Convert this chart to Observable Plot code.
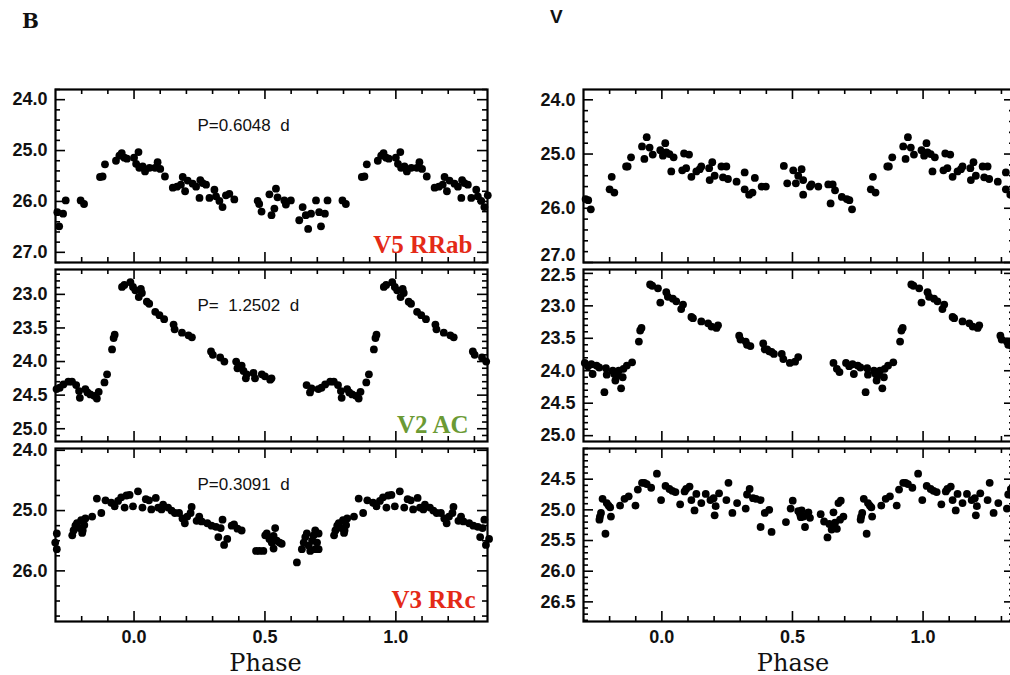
<!DOCTYPE html>
<html><head><meta charset="utf-8">
<script src="https://cdn.jsdelivr.net/npm/d3@7"></script>
<script src="https://cdn.jsdelivr.net/npm/@observablehq/plot@0.6"></script>
<style>
html,body{margin:0;padding:0;background:#fff;overflow:hidden;}
#root{position:relative;width:1010px;height:675px;overflow:hidden;background:#fff;}
.panel{position:absolute;}
.panel svg{overflow:visible;max-width:none;background:transparent;}
.ttl{position:absolute;font-weight:bold;color:#111;line-height:1;}
</style></head><body><div id="root"></div>
<script>
// ---- Data: one pulsation cycle per star and band, [phase, magnitude] ----
const bV5 = [[0.000,25.14],[0.008,25.26],[0.017,25.03],[0.020,25.34],[0.033,25.31],[0.042,25.41],[0.059,25.34],[0.080,25.34],[0.090,25.23],[0.100,25.36],[0.118,25.51],[0.148,25.73],[0.164,25.71],[0.179,25.67],[0.186,25.52],[0.195,25.80],[0.205,25.59],[0.224,25.65],[0.237,25.71],[0.250,25.93],[0.253,25.58],[0.262,25.64],[0.275,25.67],[0.288,25.93],[0.307,25.77],[0.313,25.90],[0.326,25.99],[0.338,26.11],[0.351,25.88],[0.364,25.85],[0.383,25.96],[0.472,25.99],[0.478,26.05],[0.487,26.20],[0.517,25.86],[0.525,26.27],[0.536,26.14],[0.542,25.75],[0.548,25.92],[0.574,25.98],[0.580,26.06],[0.599,25.98],[0.631,26.37],[0.644,26.11],[0.656,26.27],[0.665,26.54],[0.676,26.24],[0.695,25.98],[0.707,26.21],[0.714,26.49],[0.729,26.24],[0.739,25.98],[0.796,25.98],[0.809,26.05],[0.870,25.52],[0.880,25.51],[0.889,25.27],[0.931,25.20],[0.944,25.10],[0.953,25.05],[0.963,25.14],[0.973,25.16]];
const bV2 = [[0.005,22.94],[0.018,23.04],[0.026,22.92],[0.030,22.98],[0.049,23.11],[0.058,23.14],[0.081,23.26],[0.097,23.31],[0.115,23.37],[0.151,23.45],[0.155,23.52],[0.183,23.57],[0.208,23.61],[0.221,23.64],[0.294,23.85],[0.301,23.90],[0.329,23.94],[0.345,24.00],[0.390,24.00],[0.395,24.10],[0.411,24.06],[0.418,24.14],[0.427,24.25],[0.430,24.19],[0.456,24.17],[0.462,24.25],[0.488,24.19],[0.500,24.22],[0.520,24.27],[0.525,24.25],[0.659,24.35],[0.672,24.46],[0.678,24.40],[0.704,24.41],[0.716,24.39],[0.730,24.34],[0.749,24.30],[0.763,24.30],[0.779,24.35],[0.790,24.44],[0.793,24.54],[0.814,24.41],[0.822,24.46],[0.833,24.49],[0.848,24.51],[0.858,24.55],[0.865,24.45],[0.887,24.31],[0.897,24.19],[0.916,23.82],[0.922,23.65],[0.926,23.60],[0.954,22.89],[0.963,22.86],[0.986,22.82],[0.996,22.89]];
const bV3 = [[0.015,24.68],[0.032,24.95],[0.045,24.81],[0.057,24.83],[0.066,24.98],[0.083,24.79],[0.092,24.95],[0.105,24.98],[0.111,24.90],[0.130,24.95],[0.143,25.00],[0.156,25.04],[0.172,25.04],[0.185,25.13],[0.194,25.21],[0.203,25.10],[0.216,25.04],[0.220,24.94],[0.239,25.17],[0.249,25.10],[0.258,25.18],[0.280,25.21],[0.296,25.25],[0.313,25.27],[0.322,25.44],[0.331,25.29],[0.338,25.15],[0.344,25.57],[0.356,25.47],[0.373,25.25],[0.382,25.23],[0.395,25.30],[0.411,25.33],[0.466,25.67],[0.479,25.67],[0.494,25.67],[0.501,25.41],[0.507,25.38],[0.517,25.47],[0.526,25.53],[0.533,25.42],[0.533,25.63],[0.539,25.29],[0.545,25.50],[0.556,25.53],[0.564,25.55],[0.622,25.86],[0.641,25.64],[0.648,25.53],[0.654,25.44],[0.660,25.38],[0.667,25.58],[0.673,25.67],[0.680,25.50],[0.686,25.41],[0.692,25.33],[0.692,25.64],[0.699,25.53],[0.705,25.64],[0.705,25.38],[0.764,25.41],[0.769,25.33],[0.776,25.25],[0.782,25.21],[0.792,25.29],[0.798,25.16],[0.802,25.37],[0.804,25.33],[0.810,25.24],[0.814,25.13],[0.840,25.10],[0.858,24.80],[0.875,25.04],[0.891,24.83],[0.913,24.87],[0.926,24.93],[0.939,24.84],[0.951,24.78],[0.964,24.95],[0.971,24.75],[0.983,24.74],[0.996,24.93]];
const vV5 = [[0.004,25.03],[0.013,24.80],[0.017,24.97],[0.029,25.00],[0.036,25.32],[0.045,25.06],[0.078,25.30],[0.085,24.99],[0.093,25.26],[0.104,25.01],[0.113,25.42],[0.132,25.32],[0.145,25.28],[0.151,25.23],[0.181,25.26],[0.183,25.48],[0.193,25.15],[0.202,25.40],[0.228,25.23],[0.234,25.43],[0.247,25.23],[0.253,25.46],[0.286,25.51],[0.317,25.34],[0.317,25.65],[0.334,25.75],[0.347,25.71],[0.356,25.44],[0.382,25.60],[0.398,25.60],[0.467,25.22],[0.480,25.54],[0.503,25.30],[0.513,25.54],[0.522,25.40],[0.535,25.28],[0.541,25.48],[0.541,25.75],[0.567,25.60],[0.573,25.56],[0.599,25.60],[0.637,25.56],[0.646,25.91],[0.654,25.56],[0.663,25.67],[0.689,25.79],[0.708,25.83],[0.718,25.85],[0.728,26.02],[0.800,25.65],[0.808,25.42],[0.818,25.71],[0.863,25.23],[0.869,25.23],[0.882,25.06],[0.924,24.86],[0.933,25.09],[0.942,24.69],[0.953,24.88],[0.965,25.01],[0.994,24.93]];
const vV2 = [[0.017,22.79],[0.023,22.86],[0.042,22.89],[0.055,22.93],[0.074,23.05],[0.081,22.98],[0.113,23.17],[0.119,23.19],[0.151,23.24],[0.177,23.27],[0.190,23.32],[0.209,23.34],[0.215,23.30],[0.296,23.46],[0.301,23.52],[0.321,23.55],[0.326,23.60],[0.339,23.62],[0.388,23.58],[0.394,23.67],[0.403,23.67],[0.411,23.70],[0.420,23.71],[0.429,23.74],[0.459,23.74],[0.465,23.82],[0.490,23.88],[0.510,23.86],[0.522,23.79],[0.657,23.88],[0.670,23.97],[0.680,24.02],[0.705,23.88],[0.717,23.93],[0.730,23.90],[0.735,24.05],[0.750,23.92],[0.760,23.95],[0.780,24.33],[0.786,23.96],[0.789,24.06],[0.812,24.00],[0.818,24.05],[0.822,24.15],[0.827,24.07],[0.835,24.00],[0.844,24.27],[0.850,24.10],[0.853,23.97],[0.866,23.92],[0.886,23.87],[0.912,23.55],[0.917,23.38],[0.922,23.34],[0.955,22.67],[0.963,22.69],[0.985,22.73],[0.994,22.95]];
const vV3 = [[0.014,24.61],[0.029,24.66],[0.040,24.69],[0.052,24.71],[0.070,24.91],[0.087,24.70],[0.093,24.66],[0.106,24.62],[0.113,24.84],[0.125,25.01],[0.132,24.74],[0.151,24.89],[0.168,24.74],[0.186,24.84],[0.198,24.81],[0.202,25.09],[0.206,24.94],[0.219,24.73],[0.247,24.84],[0.255,24.56],[0.270,25.05],[0.288,24.89],[0.321,24.98],[0.326,24.75],[0.336,24.66],[0.349,24.81],[0.360,24.82],[0.378,24.84],[0.378,25.28],[0.394,25.05],[0.411,25.00],[0.420,25.36],[0.475,25.20],[0.493,24.98],[0.501,24.85],[0.522,25.02],[0.529,25.07],[0.532,25.12],[0.535,25.01],[0.542,25.11],[0.548,25.28],[0.561,25.04],[0.567,25.13],[0.608,25.07],[0.621,25.19],[0.634,25.45],[0.641,25.23],[0.650,25.32],[0.657,25.04],[0.663,25.21],[0.670,25.31],[0.676,24.89],[0.682,25.16],[0.685,24.85],[0.695,25.11],[0.761,25.16],[0.763,25.11],[0.767,25.05],[0.773,24.82],[0.784,25.39],[0.789,24.89],[0.796,24.93],[0.802,24.96],[0.805,25.11],[0.840,24.93],[0.857,24.82],[0.873,24.78],[0.899,24.93],[0.908,24.67],[0.924,24.56],[0.933,24.56],[0.942,24.58],[0.959,24.64],[0.981,24.41],[0.997,24.84]];

const bandTitles = ["B", "V"];
const periodLabels = ["P=0.6048  d", "P=  1.2502  d", "P=0.3091  d"];
const starLabels = ["V5 RRab", "V2 AC", "V3 RRc"];
const starColors = ["#e42a17", "#6b9a34", "#e42a17"];
const phaseDomain = [-0.3, 1.35];
const phaseMajor = [0.0, 0.5, 1.0];
const phaseMinor = [-0.2, -0.1, 0.1, 0.2, 0.3, 0.4, 0.6, 0.7, 0.8, 0.9, 1.1, 1.2, 1.3];
const xLabel = "Phase";

// y tick labels per panel
const yMajB = [[24, 25, 26, 27], [23.0, 23.5, 24.0, 24.5, 25.0], [24, 25, 26]];
const yMajV = [[24, 25, 26, 27], [22.5, 23.0, 23.5, 24.0, 24.5, 25.0], [24.5, 25.0, 25.5, 26.0, 26.5]];

// ---- Layout ----
const rows = [
  {top: 80, mt: 9, ih: 173, mb: 3},
  {top: 262, mt: 7, ih: 172, mb: 3},
  {top: 441, mt: 7, ih: 173, mb: 54}
];
const cols = [
  {left: 0, width: 500, ml: 55, mr: 13},
  {left: 500, width: 520, ml: 83, mr: 6}
];

const panels = [
  {col: 0, row: 0, data: bV5, yDomain: [23.8, 27.2], yMajor: yMajB[0], yStep: 0.2, period: periodLabels[0], label: starLabels[0], color: starColors[0], ldx: -15, ldy: -10},
  {col: 0, row: 1, data: bV2, yDomain: [22.63, 25.19], yMajor: yMajB[1], yStep: 0.1, period: periodLabels[1], label: starLabels[1], color: starColors[1], ldx: -19, ldy: -9},
  {col: 0, row: 2, data: bV3, yDomain: [23.97, 26.84], yMajor: yMajB[2], yStep: 0.25, period: periodLabels[2], label: starLabels[2], color: starColors[2], ldx: -12, ldy: -14},
  {col: 1, row: 0, data: vV5, yDomain: [23.81, 27.0], yMajor: yMajV[0], yStep: 0.2, lastDy: -7},
  {col: 1, row: 1, data: vV2, yDomain: [22.44, 25.09], yMajor: yMajV[1], yStep: 0.1, firstDy: 1.5},
  {col: 1, row: 2, data: vV3, yDomain: [24.0, 26.82], yMajor: yMajV[2], yStep: 0.1}
];

function minorTicks(domain, step, majors) {
  const out = [];
  const lo = Math.ceil(domain[0] / step - 1e-9), hi = Math.floor(domain[1] / step + 1e-9);
  for (let i = lo; i <= hi; i++) {
    const v = +(i * step).toFixed(4);
    if (!majors.some(m => Math.abs(m - v) < 1e-6)) out.push(v);
  }
  return out;
}

const root = document.getElementById("root");
const tickStroke = {stroke: "#000", strokeWidth: 1.6};
const fmt = d3.format(".1f");
const tickFont = {fontSize: 18, fontWeight: "bold", fontFamily: "Liberation Sans, Arial, sans-serif", fill: "#111"};

for (const cfg of panels) {
  const R = rows[cfg.row], C = cols[cfg.col];
  const height = R.mt + R.ih + R.mb;
  const iw = C.width - C.ml - C.mr, ih = R.ih;
  const pts = [];
  for (const [p, m] of cfg.data) {
    for (const k of [-1, 0, 1]) {
      const x = p + k;
      if (x >= phaseDomain[0] - 0.005 && x <= phaseDomain[1] + 0.01) pts.push({phase: x, mag: m});
    }
  }
  const yMinor = minorTicks(cfg.yDomain, cfg.yStep, cfg.yMajor);
  const n = cfg.yMajor.length;
  const yLabMid = cfg.yMajor.slice(cfg.firstDy ? 1 : 0, cfg.lastDy ? n - 1 : n);
  const marks = [
    Plot.dot(pts, {x: "phase", y: "mag", r: 3.9, fill: "#000", stroke: "none"}),
    // inward ticks on all four sides
    Plot.tickX(phaseMajor, {x: d => d, insetBottom: ih - 10, ...tickStroke}),
    Plot.tickX(phaseMajor, {x: d => d, insetTop: ih - 10, ...tickStroke}),
    Plot.tickX(phaseMinor, {x: d => d, insetBottom: ih - 5, ...tickStroke}),
    Plot.tickX(phaseMinor, {x: d => d, insetTop: ih - 5, ...tickStroke}),
    Plot.tickY(cfg.yMajor, {y: d => d, insetRight: iw - 10, ...tickStroke}),
    Plot.tickY(cfg.yMajor, {y: d => d, insetLeft: iw - 10, ...tickStroke}),
    Plot.tickY(yMinor, {y: d => d, insetRight: iw - 5, ...tickStroke}),
    Plot.tickY(yMinor, {y: d => d, insetLeft: iw - 5, ...tickStroke}),
    Plot.frame({stroke: "#000", strokeWidth: 2.2}),
    Plot.axisY(yLabMid, {anchor: "left", tickSize: 0, tickPadding: 8, tickFormat: fmt, label: null, ...tickFont})
  ];
  if (cfg.firstDy) marks.push(Plot.axisY([cfg.yMajor[0]], {anchor: "left", tickSize: 0, tickPadding: 8, tickFormat: fmt, label: null, dy: cfg.firstDy, ...tickFont}));
  if (cfg.lastDy) marks.push(Plot.axisY([cfg.yMajor[n - 1]], {anchor: "left", tickSize: 0, tickPadding: 8, tickFormat: fmt, label: null, dy: cfg.lastDy, ...tickFont}));
  if (cfg.row === 2) {
    marks.push(Plot.axisX(phaseMajor, {anchor: "bottom", tickSize: 0, tickPadding: 9, tickFormat: fmt, label: null, ...tickFont}));
    marks.push(Plot.text([xLabel], {text: d => d, frameAnchor: "bottom", dx: -6, dy: 49, lineAnchor: "bottom",
      fontSize: 24, fontFamily: "DejaVu Serif, serif", fill: "#111"}));
  }
  if (cfg.period) {
    marks.push(Plot.text([cfg.period], {text: d => d, frameAnchor: "top-left", dx: 142, dy: 41, textAnchor: "start",
      lineAnchor: "bottom", fontSize: 17, fontFamily: "Liberation Sans, Arial, sans-serif", fill: "#111"}));
  }
  if (cfg.label) {
    marks.push(Plot.text([cfg.label], {text: d => d, frameAnchor: "bottom-right", dx: cfg.ldx, dy: cfg.ldy,
      textAnchor: "end", lineAnchor: "bottom", fontSize: 25, fontWeight: "bold",
      fontFamily: "Liberation Serif, Times New Roman, serif", fill: cfg.color}));
  }
  const svg = Plot.plot({
    width: C.width, height,
    marginLeft: C.ml, marginRight: C.mr, marginTop: R.mt, marginBottom: R.mb,
    x: {domain: phaseDomain, axis: null},
    y: {domain: cfg.yDomain, reverse: true, axis: null},
    style: {background: "transparent", overflow: "visible", maxWidth: "none", fontFamily: "Liberation Sans, Arial, sans-serif", fontSize: "16px"},
    marks
  });
  const div = document.createElement("div");
  div.className = "panel";
  div.style.left = C.left + "px";
  div.style.top = R.top + "px";
  div.style.width = C.width + "px";
  div.appendChild(svg);
  root.appendChild(div);
}

// band titles
const tB = document.createElement("div");
tB.className = "ttl"; tB.textContent = bandTitles[0];
tB.style.cssText += "left:22px;top:11px;font-family:'DejaVu Serif',serif;font-size:20px;";
root.appendChild(tB);
const tV = document.createElement("div");
tV.className = "ttl"; tV.textContent = bandTitles[1];
tV.style.cssText += "left:550px;top:7px;font-family:'Liberation Sans',Arial,sans-serif;font-size:19px;";
root.appendChild(tV);
</script></body></html>
